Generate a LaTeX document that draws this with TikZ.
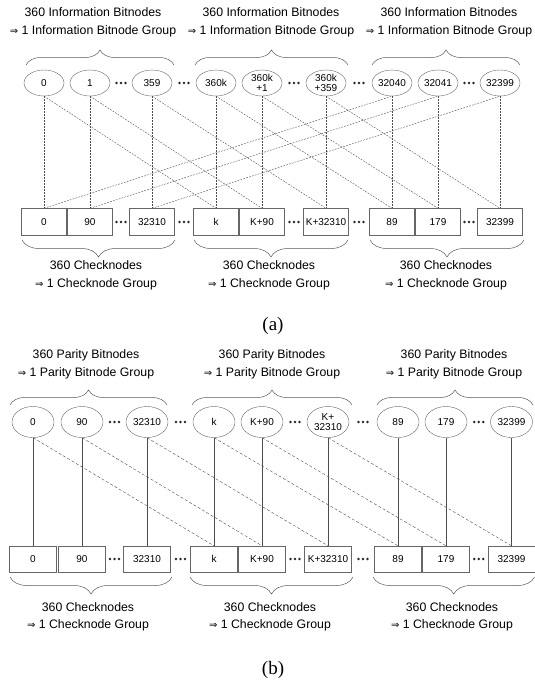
\documentclass[tikz,border=0pt]{standalone}
\usepackage{fontspec}
\setmainfont{Liberation Sans}
\newfontfamily\symfont{DejaVu Sans}
\newfontfamily\capfont{Liberation Serif}
\usetikzlibrary{shapes.geometric,decorations.pathreplacing,calc}
\tikzset{
  bit/.style={draw=black!60, ellipse, minimum width=40pt, minimum height=26pt,
              inner sep=0pt, align=center, font=\fontsize{10}{10.5}\selectfont},
  pbit/.style={bit, minimum width=42pt, minimum height=31pt},
  chk/.style={draw=black!60, minimum width=45pt, minimum height=27pt,
              inner sep=0pt, font=\fontsize{10}{10.5}\selectfont},
  pchk/.style={chk, minimum width=47pt, minimum height=26pt},
  edge/.style={black!70, line width=0.4pt, dash pattern=on 1.8pt off 1.2pt},
  pedge/.style={black!70, line width=0.4pt, dash pattern=on 3pt off 2pt},
  pline/.style={black!70, line width=0.5pt},
  grp/.style={decorate, decoration={brace, amplitude=#1}, black!65, line width=0.5pt},
  grp/.default=15pt,
  grplabel/.style={align=center, font=\fontsize{12.3}{17.5}\selectfont},
}
% three dots half way between two nodes
\newcommand{\gapdots}[2]{%
  \coordinate (gap) at ($(#1)!0.5!(#2)$);
  \foreach \d in {-4.5,0,4.5}
    \fill[black!85] ([xshift=\d pt]gap) circle (1.4pt);
}
\newcommand{\imp}{{\symfont\fontsize{10}{12}\selectfont ⇒}}

\begin{document}
\begin{tikzpicture}[x=1pt, y=1pt]
\useasboundingbox (0,0) rectangle (535,-681);

%% (a) information bitnodes
\foreach \i/\x/\t in {0/44/0, 1/90/1, 2/152/359, 3/216/360k, 4/262/{360k\\+1},
                      5/326/{360k\\+359}, 6/392/32040, 7/438/32041, 8/500/32399}
  \node[bit] (ia\i) at (\x,-83) {\t};

% checknodes
\foreach \i/\x/\t in {0/44/0, 1/90/90, 2/152/32310, 3/216/k, 4/262/K+90,
                      5/326/K+32310, 6/392/89, 7/438/179, 8/500/32399}
  \node[chk] (ca\i) at (\x,-222) {\t};

\foreach \a/\b in {1/2, 2/3, 4/5, 5/6, 7/8} {
  \gapdots{ia\a}{ia\b}
  \gapdots{ca\a}{ca\b}
}

% edges
\foreach \i in {0,...,8}
  \draw[edge] (ia\i.south) -- (ca\i.north);
\foreach \s/\t in {0/3, 1/4, 2/5, 3/6, 4/7, 5/8}
  \draw[edge] (ia\s.south) -- (ca\t.north);
\foreach \s/\t in {0/6, 1/7, 2/8}
  \draw[edge] (ca\s.north) -- (ia\t.south);

% groups
\foreach \l/\r [count=\g from 0] in {26/174, 195/348, 372/520}
  \draw[grp] (\l,-65) -- (\r,-65);
\foreach \l/\r [count=\g from 0] in {22/175, 194/348, 370/524}
  \draw[grp=17pt, decoration={mirror}] (\l,-240) -- (\r,-240);

\foreach \x [count=\g from 0] in {93, 271, 449}
  \node[grplabel] (ila\g) at (\x,-22.5)
    {360 Information Bitnodes\\\imp\ 1 Information Bitnode Group};
\foreach \x [count=\g from 0] in {96, 269, 446}
  \node[grplabel] (cla\g) at (\x,-275.5)
    {360 Checknodes\\\imp\ 1 Checknode Group};

\node[font=\capfont\fontsize{19}{22}\selectfont] (capa) at (273,-326) {(a)};

%% (b) parity bitnodes
\foreach \i/\x/\t in {0/33/0, 1/82/90, 2/147/32310, 3/214/k, 4/262/K+90,
                      5/328/{K+\\32310}, 6/398/89, 7/446/179, 8/511.5/32399}
  \node[pbit] (pb\i) at (\x,-422) {\t};

% checknodes
\foreach \i/\x/\t in {0/33/0, 1/82/90, 2/147/32310, 3/214/k, 4/262/K+90,
                      5/328/K+32310, 6/398/89, 7/446/179, 8/511.5/32399}
  \node[pchk] (cb\i) at (\x,-559) {\t};

\foreach \a/\b in {1/2, 2/3, 4/5, 5/6, 7/8} {
  \gapdots{pb\a}{pb\b}
  \gapdots{cb\a}{cb\b}
}

% edges
\foreach \i in {0,...,8}
  \draw[pline] (pb\i.south) -- (cb\i.north);
\foreach \s/\t in {0/3, 1/4, 2/5, 3/6, 4/7, 5/8}
  \draw[pedge] (pb\s.south) -- (cb\t.north);

% groups
\foreach \l/\r in {10/167, 192/352, 377/533}
  \draw[grp] (\l,-405) -- (\r,-405);
\foreach \l/\r in {10/172, 190/353, 373/534.5}
  \draw[grp=17pt, decoration={mirror}] (\l,-577) -- (\r,-577);

\foreach \x [count=\g from 0] in {86, 272, 454}
  \node[grplabel] (plb\g) at (\x,-364.5)
    {360 Parity Bitnodes\\\imp\ 1 Parity Bitnode Group};
\foreach \x [count=\g from 0] in {88, 270, 452}
  \node[grplabel] (clb\g) at (\x,-617)
    {360 Checknodes\\\imp\ 1 Checknode Group};

\node[font=\capfont\fontsize{19}{22}\selectfont] (capb) at (273,-670) {(b)};

\end{tikzpicture}
\end{document}
